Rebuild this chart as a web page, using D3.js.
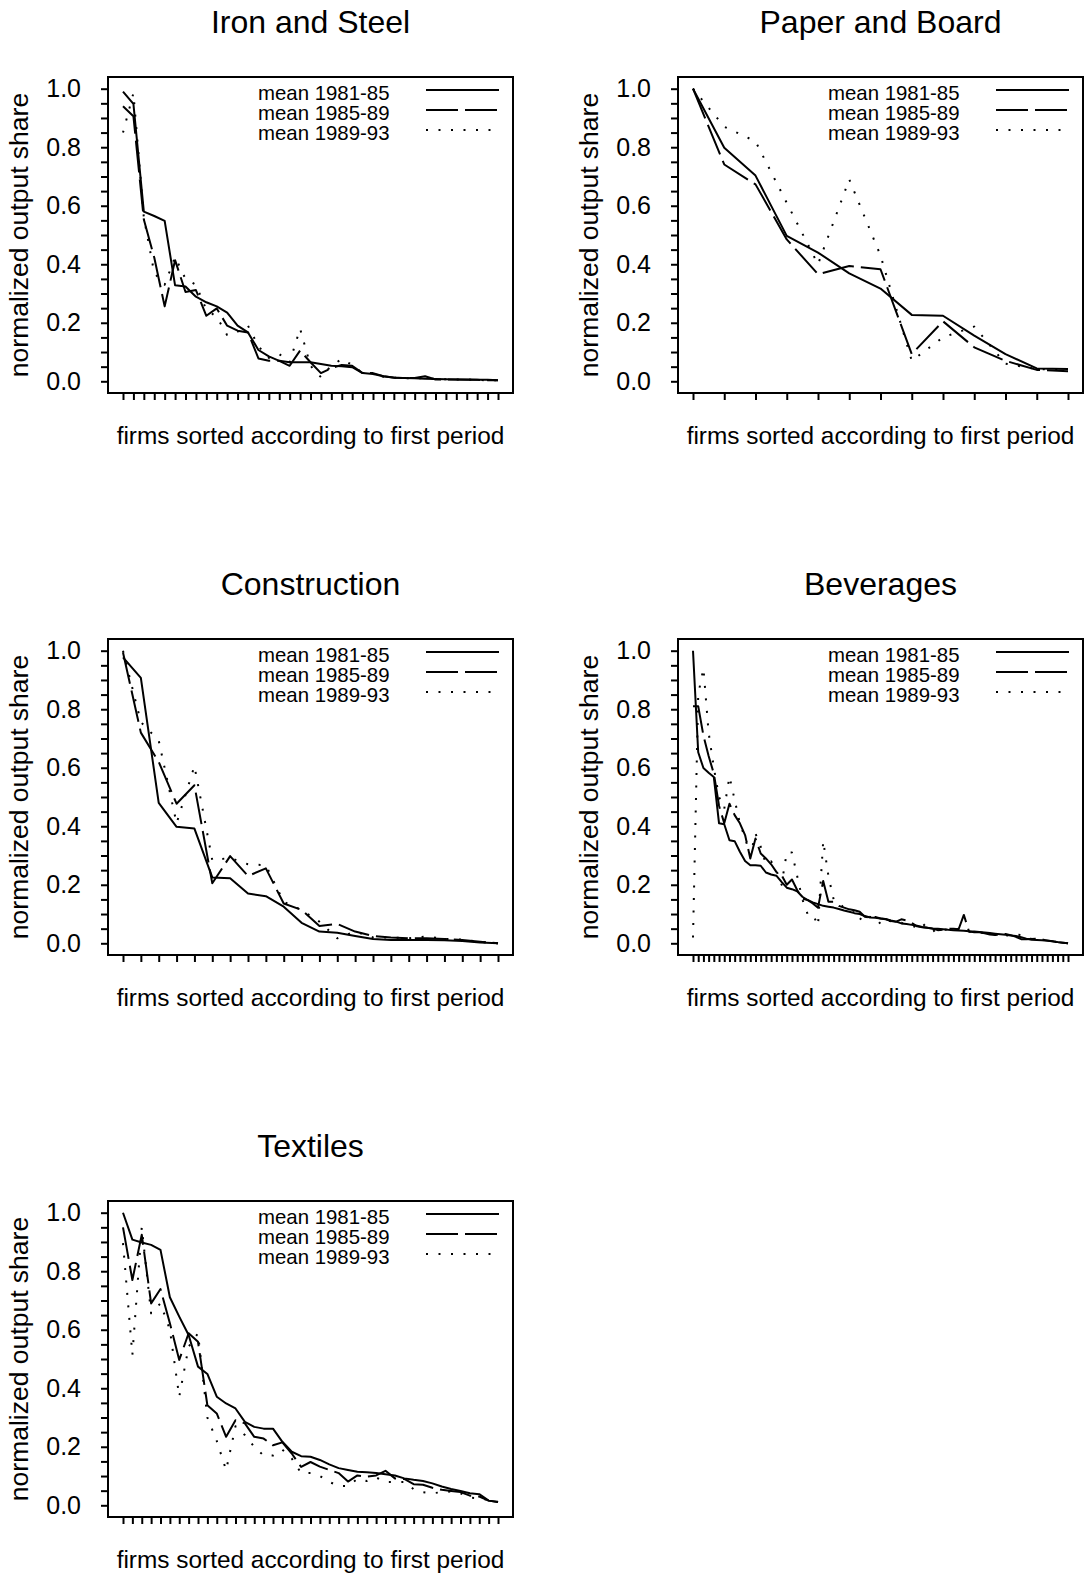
<!DOCTYPE html>
<html>
<head>
<meta charset="utf-8">
<script src="https://cdn.jsdelivr.net/npm/d3@7"></script>
<style>
  body { margin: 0; background: #fff; }
  svg { font-family: 'Liberation Sans', Arial, Helvetica, sans-serif; }
  .tick line { stroke: #000; stroke-width: 2px; }
  .tick text { fill: #000; font-size: 25px; }
  .domain { display: none; }
</style>
</head>
<body>
<script>
// mean normalized output share, firms sorted by the first period
var ironSolid = [0.99, 0.948, 0.58, 0.565, 0.548, 0.328, 0.324, 0.289, 0.27, 0.256,
	0.235, 0.19, 0.167, 0.107, 0.085, 0.07, 0.065, 0.065, 0.065, 0.059,
	0.053, 0.051, 0.048, 0.028, 0.025, 0.017, 0.0125, 0.011, 0.010, 0.009,
	0.008, 0.007, 0.006, 0.006, 0.005, 0.005, 0.004];
var ironDash = [0.94, 0.906, 0.553, 0.423, 0.256, 0.414, 0.305, 0.312, 0.224, 0.249,
	0.19, 0.173, 0.167, 0.078, 0.07, 0.07, 0.053, 0.105, 0.065, 0.028,
	0.045, 0.056, 0.053, 0.028, 0.028, 0.017, 0.013, 0.011, 0.011, 0.017,
	0.006, 0.006, 0.006, 0.005, 0.005, 0.004, 0.004];
var ironDot = [0.85, 0.985, 0.56, 0.37, 0.33, 0.425, 0.35, 0.33, 0.245, 0.22,
	0.158, 0.17, 0.19, 0.12, 0.08, 0.093, 0.065, 0.18, 0.053, 0.014,
	0.053, 0.076, 0.056, 0.028, 0.028, 0.015, 0.013, 0.011, 0.01, 0.01,
	0.008, 0.007, 0.006, 0.006, 0.005, 0.003, 0.004];

var paperSolid = [1.0, 0.798, 0.703, 0.497, 0.44, 0.369, 0.317, 0.227, 0.224, 0.156, 0.093, 0.044, 0.042];
var paperDash = [1.0, 0.741, 0.673, 0.485, 0.366, 0.394, 0.383, 0.093, 0.205, 0.116, 0.07, 0.039, 0.034];
var paperDot = [1.0, 0.87, 0.82, 0.61, 0.40, 0.69, 0.43, 0.07, 0.15, 0.187, 0.06, 0.042, 0.039];

var constrSolid = [0.977, 0.907, 0.48, 0.398, 0.392, 0.225, 0.222, 0.17, 0.161, 0.125,
	0.07, 0.04, 0.036, 0.025, 0.015, 0.011, 0.011, 0.011, 0.01, 0.008, 0.003, 0.0];
var constrDash = [0.994, 0.72, 0.62, 0.477, 0.54, 0.205, 0.298, 0.23, 0.256, 0.136,
	0.114, 0.059, 0.066, 0.04, 0.025, 0.02, 0.017, 0.017, 0.015, 0.011, 0.005, 0.0];
var constrDot = [1.0, 0.756, 0.693, 0.41, 0.606, 0.284, 0.292, 0.27, 0.267, 0.142,
	0.114, 0.074, 0.017, 0.04, 0.02, 0.02, 0.017, 0.023, 0.015, 0.013, 0.005, 0.0];

var bevSolid = [1.0, 0.653, 0.599, 0.583, 0.568, 0.41, 0.407, 0.352, 0.349, 0.313,
	0.281, 0.267, 0.267, 0.265, 0.242, 0.235, 0.231, 0.21, 0.19, 0.185,
	0.178, 0.159, 0.148, 0.14, 0.134, 0.128, 0.125, 0.122, 0.117, 0.112,
	0.108, 0.103, 0.1, 0.093, 0.088, 0.087, 0.085, 0.083, 0.078, 0.074,
	0.068, 0.066, 0.063, 0.06, 0.056, 0.053, 0.051, 0.05, 0.048, 0.046,
	0.045, 0.044, 0.043, 0.041, 0.04, 0.039, 0.037, 0.035, 0.033, 0.031,
	0.029, 0.027, 0.025, 0.021, 0.016, 0.012, 0.011, 0.01, 0.009, 0.007,
	0.004, 0.002, 0.0];
var bevDash = [0.81, 0.81, 0.71, 0.64, 0.58, 0.47, 0.41, 0.477, 0.438, 0.41,
	0.37, 0.29, 0.358, 0.307, 0.29, 0.27, 0.244, 0.233, 0.2, 0.218,
	0.182, 0.153, 0.148, 0.136, 0.122, 0.213, 0.142, 0.142, 0.128, 0.122,
	0.116, 0.113, 0.108, 0.091, 0.088, 0.09, 0.085, 0.082, 0.076, 0.074,
	0.082, 0.078, 0.07, 0.058, 0.055, 0.053, 0.05, 0.045, 0.046, 0.05,
	0.05, 0.048, 0.097, 0.04, 0.038, 0.038, 0.034, 0.03, 0.028, 0.03,
	0.032, 0.028, 0.022, 0.014, 0.014, 0.015, 0.016, 0.012, 0.01, 0.007,
	0.004, 0.002, 0.0];
var bevDot = [0.02, 0.85, 0.94, 0.72, 0.6, 0.5, 0.46, 0.57, 0.49, 0.41,
	0.36, 0.3, 0.375, 0.33, 0.27, 0.28, 0.25, 0.2, 0.31, 0.31,
	0.23, 0.15, 0.1, 0.1, 0.06, 0.35, 0.23, 0.15, 0.14, 0.12,
	0.115, 0.11, 0.08, 0.1, 0.09, 0.09, 0.066, 0.08, 0.075, 0.07,
	0.07, 0.065, 0.06, 0.055, 0.07, 0.05, 0.04, 0.05, 0.045, 0.048,
	0.045, 0.05, 0.042, 0.04, 0.037, 0.036, 0.035, 0.033, 0.03, 0.03,
	0.028, 0.026, 0.03, 0.028, 0.02, 0.015, 0.014, 0.012, 0.01, 0.007,
	0.004, 0.002, 0.0];

var textSolid = [1.0, 0.908, 0.898, 0.89, 0.873, 0.711, 0.645, 0.582, 0.474, 0.449,
	0.371, 0.348, 0.331, 0.285, 0.268, 0.262, 0.262, 0.217, 0.183, 0.168,
	0.166, 0.155, 0.14, 0.127, 0.121, 0.115, 0.113, 0.11, 0.106, 0.102,
	0.092, 0.087, 0.083, 0.075, 0.064, 0.056, 0.049, 0.041, 0.038, 0.016, 0.011];
var textDash = [0.95, 0.77, 0.925, 0.69, 0.739, 0.622, 0.497, 0.588, 0.559, 0.342,
	0.314, 0.234, 0.291, 0.28, 0.234, 0.228, 0.205, 0.215, 0.177, 0.131,
	0.148, 0.132, 0.121, 0.11, 0.081, 0.102, 0.098, 0.102, 0.118, 0.092,
	0.09, 0.072, 0.07, 0.06, 0.053, 0.049, 0.045, 0.033, 0.03, 0.016, 0.011];
var textDot = [0.896, 0.514, 0.95, 0.656, 0.69, 0.6, 0.371, 0.542, 0.588, 0.30,
	0.22, 0.12, 0.27, 0.24, 0.2, 0.17, 0.17, 0.19, 0.16, 0.11,
	0.11, 0.1, 0.08, 0.066, 0.066, 0.09, 0.083, 0.095, 0.08, 0.08,
	0.08, 0.055, 0.045, 0.041, 0.045, 0.047, 0.041, 0.026, 0.024, 0.018, 0.011];

var titles = ['Iron and Steel', 'Paper and Board', 'Construction', 'Beverages', 'Textiles'];
var periods = ['mean 1981-85', 'mean 1985-89', 'mean 1989-93'];
var yTicks = [0, 0.05, 0.1, 0.15, 0.2, 0.25, 0.3, 0.35, 0.4, 0.45, 0.5,
	0.55, 0.6, 0.65, 0.7, 0.75, 0.8, 0.85, 0.9, 0.95, 1.0];
var yTickLabels = ['0.0', '0.2', '0.4', '0.6', '0.8', '1.0'];
var xTitle = 'firms sorted according to first period';
var yTitle = 'normalized output share';

var panels = [
	{ series: [ironSolid, ironDash, ironDot], col: 0, row: 0 },
	{ series: [paperSolid, paperDash, paperDot], col: 1, row: 0 },
	{ series: [constrSolid, constrDash, constrDot], col: 0, row: 1 },
	{ series: [bevSolid, bevDash, bevDot], col: 1, row: 1 },
	{ series: [textSolid, textDash, textDot], col: 0, row: 2 }
];

var colLeft = [108, 678];
var rowTop = [77, 639, 1201];
var boxW = 405;
var boxH = 316;
var dashes = [null, '32,7', '2,10.5'];

var svg = d3.select('body').append('svg')
	.attr('width', 1084)
	.attr('height', 1577);

panels.forEach(function(p, k) {
	var L = colLeft[p.col], T = rowTop[p.row];
	var n = p.series[0].length;
	var pad = 0.04 * (n - 1);
	var idx = p.series[0].map(function(d, i) { return i; });

	var x = d3.scaleLinear()
		.domain([-pad, n - 1 + pad])
		.range([0, boxW]);
	var y = d3.scaleLinear()
		.domain([-0.04, 1.04])
		.range([boxH, 0]);

	var g = svg.append('g')
		.attr('transform', 'translate(' + L + ',' + T + ')');

	g.append('text')
		.attr('x', boxW / 2)
		.attr('y', -44)
		.attr('text-anchor', 'middle')
		.style('font-size', '32px')
		.text(titles[k]);

	g.append('g')
		.attr('class', 'axis axis--y')
		.call(d3.axisLeft(y)
			.tickValues(yTicks)
			.tickSize(7)
			.tickPadding(20)
			.tickFormat(function(d) {
				var s = d3.format('.1f')(d);
				return yTickLabels.indexOf(s) >= 0 && Math.abs(d * 5 - Math.round(d * 5)) < 1e-6 ? s : '';
			}));

	g.append('g')
		.attr('class', 'axis axis--x')
		.attr('transform', 'translate(0,' + boxH + ')')
		.call(d3.axisBottom(x)
			.tickValues(idx)
			.tickSize(7)
			.tickFormat(''));

	g.append('rect')
		.attr('width', boxW)
		.attr('height', boxH)
		.attr('fill', 'none')
		.attr('stroke', '#000')
		.attr('stroke-width', 2);

	g.append('text')
		.attr('x', boxW / 2)
		.attr('y', boxH + 51)
		.attr('text-anchor', 'middle')
		.style('font-size', '24.4px')
		.text(xTitle);

	g.append('text')
		.attr('transform', 'translate(-80,' + (boxH / 2) + ') rotate(-90)')
		.attr('text-anchor', 'middle')
		.style('font-size', '26.5px')
		.text(yTitle);

	var line = d3.line()
		.x(function(d, i) { return x(i); })
		.y(function(d) { return y(d); });

	p.series.forEach(function(s, j) {
		g.append('path')
			.datum(s)
			.attr('fill', 'none')
			.attr('stroke', '#000')
			.attr('stroke-width', 2)
			.attr('stroke-linejoin', 'round')
			.attr('stroke-dasharray', dashes[j])
			.attr('d', line);
	});

	// legend
	var leg = g.append('g');
	periods.forEach(function(name, j) {
		leg.append('text')
			.attr('x', 150)
			.attr('y', 23 + j * 19.8)
			.style('font-size', '20.4px')
			.text(name);
		leg.append('line')
			.attr('x1', 318)
			.attr('x2', 391)
			.attr('y1', 13 + j * 20)
			.attr('y2', 13 + j * 20)
			.attr('stroke', '#000')
			.attr('stroke-width', 2)
			.attr('stroke-dasharray', dashes[j]);
	});
});
</script>
</body>
</html>
